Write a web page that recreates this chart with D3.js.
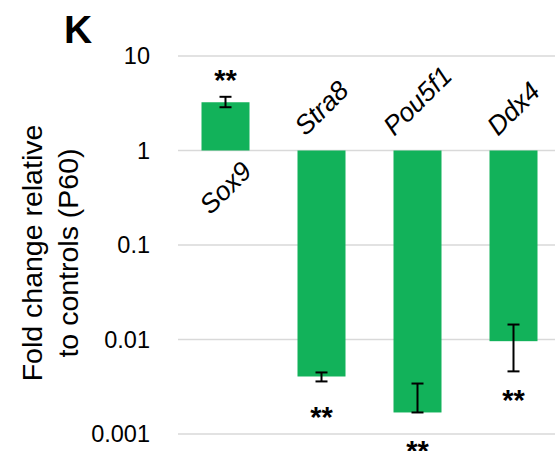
<!DOCTYPE html>
<html>
<head>
<meta charset="utf-8">
<script src="https://cdn.jsdelivr.net/npm/d3@7"></script>
<style>
  body { margin: 0; background: #fff; }
  svg { display: block; font-family: "Liberation Sans", Arial, sans-serif; }
</style>
</head>
<body>
<div id="chart"></div>
<script>
// DATA ################################################
const genes = ["Sox9", "Stra8", "Pou5f1", "Ddx4"];
const foldChange = [3.24, 0.00406, 0.00169, 0.0096];
const errLow = [2.87, 0.0036, 0.00169, 0.0046];
const errHigh = [3.70, 0.00448, 0.00342, 0.0144];
const starLevel = [6.5, 0.00177, 0.00076, 0.00268];   // where the "**" sit
const starText = ["**", "**", "**", "**"];
const yTicks = [10, 1, 0.1, 0.01, 0.001];
const yTickLabels = ["10", "1", "0.1", "0.01", "0.001"];

const data = genes.map((g, i) => ({
  gene: g, value: foldChange[i], lo: errLow[i], hi: errHigh[i],
  star: starLevel[i], starText: starText[i]
}));

// LAYOUT ##############################################
const width = 555, height = 451;
const barColor = "#12b25a";

const svg = d3.select("#chart").append("svg")
  .attr("width", width)
  .attr("height", height);

// SCALES ==============================================
const yScale = d3.scaleLog()
  .domain([0.001, 10])
  .range([434, 56]);

const xScale = d3.scaleBand()
  .domain(genes)
  .range([177.5, 561.5])
  .paddingInner(0.5)
  .paddingOuter(0.25);

// GRIDLINES ---------------------------------------------
svg.append("g")
  .selectAll("line")
  .data(yTicks)
  .join("line")
    .attr("x1", 178)
    .attr("x2", width)
    .attr("y1", d => yScale(d))
    .attr("y2", d => yScale(d))
    .attr("stroke", "#d9d9d9")
    .attr("stroke-width", 1.5);

// Y tick labels
svg.append("g")
  .selectAll("text")
  .data(yTicks)
  .join("text")
    .attr("x", 150)
    .attr("y", d => yScale(d))
    .attr("dy", "0.35em")
    .attr("text-anchor", "end")
    .style("font-size", "23.5px")
    .style("fill", "#000")
    .text((d, i) => yTickLabels[i]);

// BARS (grow from 1) ====================================
svg.append("g")
  .selectAll("rect")
  .data(data)
  .join("rect")
    .attr("x", d => xScale(d.gene))
    .attr("width", xScale.bandwidth())
    .attr("y", d => Math.min(yScale(d.value), yScale(1)))
    .attr("height", d => Math.abs(yScale(d.value) - yScale(1)))
    .attr("fill", barColor);

// ERROR BARS --------------------------------------------
const capW = 6;
const err = svg.append("g")
  .attr("stroke", "#000")
  .attr("stroke-width", 2);

data.forEach(d => {
  const cx = xScale(d.gene) + xScale.bandwidth() / 2;
  err.append("line")
    .attr("x1", cx).attr("x2", cx)
    .attr("y1", yScale(d.lo)).attr("y2", yScale(d.hi));
  [d.lo, d.hi].forEach(v => {
    err.append("line")
      .attr("x1", cx - capW).attr("x2", cx + capW)
      .attr("y1", yScale(v)).attr("y2", yScale(v));
  });
});

// SIGNIFICANCE STARS ------------------------------------
svg.append("g")
  .selectAll("text")
  .data(data)
  .join("text")
    .attr("x", d => xScale(d.gene) + xScale.bandwidth() / 2)
    .attr("y", d => yScale(d.star) + 16)
    .attr("text-anchor", "middle")
    .style("font-size", "29px")
    .style("font-weight", "bold")
    .style("fill", "#000")
    .text(d => d.starText);

// CATEGORY LABELS (rotated, opposite side of the bar) ----
const catLabels = svg.append("g")
  .selectAll("text")
  .data(data)
  .join("text")
    .attr("text-anchor", "middle")
    .attr("dominant-baseline", "central")
    .style("font-size", "26.5px")
    .style("font-style", "italic")
    .style("fill", "#000")
    .text(d => d.gene);

catLabels.attr("transform", function (d) {
  const cx = xScale(d.gene) + xScale.bandwidth() / 2;
  const half = this.getComputedTextLength() / 2 * Math.SQRT1_2;
  const cy = d.value >= 1
    ? yScale(1) + 16 + half
    : yScale(1) - 20 - half;
  return `translate(${cx},${cy}) rotate(-45)`;
});

// AXIS TITLE ---------------------------------------------
const yTitle = svg.append("text")
  .attr("transform", "translate(42,253) rotate(-90)")
  .attr("text-anchor", "middle")
  .style("font-size", "28.5px")
  .style("fill", "#000");
yTitle.append("tspan").attr("x", 0).attr("dy", 0).text("Fold change relative");
yTitle.append("tspan").attr("x", 0).attr("dy", "1.28em").text("to controls (P60)");

// PANEL LETTER -------------------------------------------
svg.append("text")
  .attr("x", 64)
  .attr("y", 43)
  .style("font-size", "39px")
  .style("font-weight", "bold")
  .style("fill", "#000")
  .text("K");
</script>
</body>
</html>
